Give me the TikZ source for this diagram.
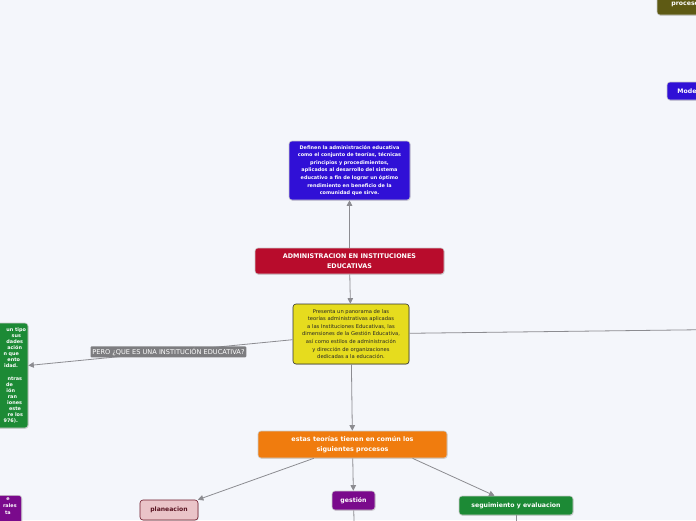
\documentclass[tikz,border=0pt]{standalone}
\usepackage{fontspec}
\setmainfont{DejaVu Sans}
\usetikzlibrary{arrows.meta, shadows}
\definecolor{bgcol}{RGB}{244,246,251}
\definecolor{linkgray}{RGB}{140,140,145}
\definecolor{adminred}{RGB}{184,12,44}
\definecolor{defblue}{RGB}{48,16,214}
\definecolor{panyellow}{RGB}{230,220,30}
\definecolor{procorange}{RGB}{240,124,14}
\definecolor{planpink}{RGB}{234,196,200}
\definecolor{planborder}{RGB}{110,24,40}
\definecolor{gestpurple}{RGB}{122,10,140}
\definecolor{seggreen}{RGB}{28,138,53}
\definecolor{procolive}{RGB}{94,90,20}
\definecolor{askgray}{RGB}{125,125,128}
\tikzset{
  topic/.style={rounded corners=3pt, draw=white!80!black, line width=0.6pt, text=white,
    align=center, inner sep=2pt,
    drop shadow={opacity=0.25, shadow xshift=0.6pt, shadow yshift=-0.8pt}},
  link/.style={draw=linkgray, line width=0.8pt, -{Triangle[width=5.5pt,length=5.5pt]}},
  plainlink/.style={draw=linkgray, line width=0.8pt},
  asklabel/.style={fill=askgray, text=white, inner sep=1.8pt, rounded corners=1pt,
    font=\fontsize{6.6}{7}\selectfont},
}
\begin{document}
\begin{tikzpicture}[x=1pt, y=-1pt]
\useasboundingbox[fill=bgcol] (0,0) rectangle (696,520);
% main topic
\node[topic, fill=adminred, minimum width=189pt, minimum height=26pt,
  font=\bfseries\fontsize{6.4}{10}\selectfont] (admin) at (349.5,261)
  {ADMINISTRACION EN INSTITUCIONES\\EDUCATIVAS};
% definition
\node[topic, fill=defblue, minimum width=121pt, minimum height=59pt,
  font=\bfseries\fontsize{4.9}{7.6}\selectfont] (defin) at (349.5,170.5)
  {Definen la administración educativa\\como el conjunto de teorías, técnicas\\principios y procedimientos,\\aplicados al desarrollo del sistema\\educativo a fin de lograr un óptimo\\rendimiento en beneficio de la\\comunidad que sirve.};
% overview
\node[topic, fill=panyellow, draw=black!80, text=black!85, minimum width=116pt, minimum height=60pt,
  font=\fontsize{5.2}{7.6}\selectfont] (panor) at (351,334)
  {Presenta un panorama de las\\teorías administrativas aplicadas\\a las Instituciones Educativas, las\\dimensiones de la Gestión Educativa,\\así como estilos de administración\\y dirección de organizaciones\\dedicadas a la educación.};
% common processes
\node[topic, fill=procorange, minimum width=189pt, minimum height=27pt,
  font=\bfseries\fontsize{6.4}{10}\selectfont] (comun) at (352.5,444.5)
  {estas teorías tienen en común los\\siguientes procesos};
\node[topic, fill=planpink, draw=planborder, text=planborder!80!black, minimum width=58pt, minimum height=20pt,
  font=\bfseries\fontsize{6.1}{8}\selectfont] (plan) at (169,510) {planeacion};
\node[topic, fill=gestpurple, minimum width=43pt, minimum height=19pt,
  font=\bfseries\fontsize{6.2}{8}\selectfont] (gest) at (353.5,500.5) {gestión};
\node[topic, fill=seggreen, minimum width=114pt, minimum height=19pt,
  font=\bfseries\fontsize{6.2}{8}\selectfont] (segui) at (516,505.5) {seguimiento y evaluacion};
% cut off at the edges
\node[topic, fill=seggreen, text width=106pt, minimum height=105pt, align=right,
  font=\bfseries\fontsize{4.9}{6.1}\selectfont] (inst) at (-27,375.5)
  {un tipo\\sus\kern5pt\\dades\kern3pt\\ación\kern4pt\\n que\kern7pt\\ento\kern6pt\\idad.\kern8pt\\[6.1pt]ntras\kern4pt\\de\kern13pt\\ión\kern11pt\\ran\kern9pt\\iones\kern4pt\\este\kern5pt\\re los\kern3pt\\976).\kern8pt};
\node[topic, fill=gestpurple, text width=86pt, align=right, anchor=north east,
  font=\bfseries\fontsize{4.9}{7}\selectfont] (extra) at (22,495)
  {e\kern10pt\\rales\kern3pt\\ta\kern9pt\\\mbox{}\\\mbox{}\\\mbox{}};
\node[topic, fill=procolive, minimum width=60pt, minimum height=22pt,
  font=\bfseries\fontsize{6.2}{8}\selectfont] (proc) at (687,4) {procesos};
\node[topic, fill=defblue, minimum width=50pt, minimum height=18pt,
  font=\bfseries\fontsize{6.2}{8}\selectfont] (model) at (692,91) {Modelos};
\coordinate (farright) at (760,329);
\coordinate (gestdown) at (355,560);
\coordinate (segdown) at (516,560);
% connectors
\draw[link] (admin) -- (defin);
\draw[link] (admin) -- (panor);
\draw[link] (panor) -- node[asklabel, pos=0.47] {PERO ¿QUE ES UNA INSTITUCIÓN EDUCATIVA?} ([yshift=10pt]inst.east);
\draw[plainlink] (panor) -- (farright);
\draw[link] (panor) -- (comun);
\draw[link] (comun) -- (plan);
\draw[link] (comun) -- (gest);
\draw[link] ([xshift=60pt]comun.south) -- (segui);
\draw[plainlink] (gest) -- (gestdown);
\draw[plainlink] (segui) -- (segdown);
\end{tikzpicture}
\end{document}
